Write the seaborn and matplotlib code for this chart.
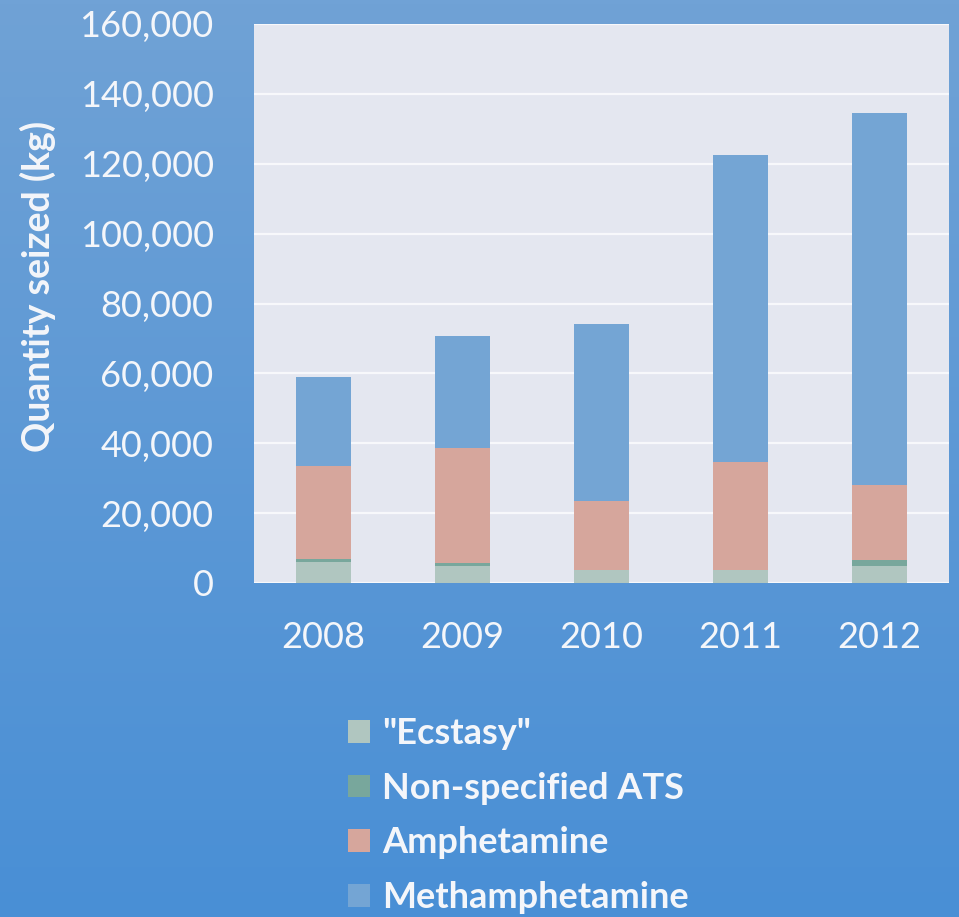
import numpy as np
import pandas as pd
import matplotlib
matplotlib.use("Agg")
import matplotlib.pyplot as plt
import seaborn as sns
from matplotlib.patches import Patch
from matplotlib.ticker import FuncFormatter

years = ["2008", "2009", "2010", "2011", "2012"]
ecstasy = [6100, 4900, 3700, 3700, 4900]
non_specified_ats = [700, 700, 0, 0, 1700]
amphetamine = [26700, 33000, 19800, 31000, 21400]
methamphetamine = [25500, 32100, 50600, 87800, 106500]

series_names = ['"Ecstasy"', "Non-specified ATS", "Amphetamine", "Methamphetamine"]
series_values = [ecstasy, non_specified_ats, amphetamine, methamphetamine]
colors = ["#B0C6C0", "#78A79C", "#D6A69C", "#74A5D4"]

yticks = list(range(0, 160001, 20000))

sns.set_theme(style="white")
plt.rcParams["font.family"] = ["Lato", "DejaVu Sans"]
txt = "#F4F6FA"

fig = plt.figure(figsize=(9.59, 9.17), dpi=100)

# gradient background
bg = fig.add_axes([0, 0, 1, 1], zorder=-10)
top = np.array([112, 162, 214]) / 255
bot = np.array([73, 143, 213]) / 255
t = np.linspace(0, 1, 256)[:, None]
grad = (top[None, :] * (1 - t) + bot[None, :] * t)[:, None, :]
bg.imshow(grad, aspect="auto", extent=[0, 1, 0, 1], origin="upper")
bg.axis("off")

ax = fig.add_axes([254 / 959, 1 - 583 / 917, 695 / 959, 559 / 917], zorder=1)
ax.set_facecolor("#E4E7F0")

cum = np.zeros(len(years))
cums = []
for vals in series_values:
    cum = cum + np.array(vals)
    cums.append(cum.copy())
for i in range(len(series_names) - 1, -1, -1):
    d = pd.DataFrame({"year": years, "value": cums[i]})
    sns.barplot(data=d, x="year", y="value", color=colors[i], width=0.4,
                saturation=1, ax=ax, zorder=3, linewidth=0)

ax.set_ylim(0, 160000)
ax.set_yticks(yticks)
ax.yaxis.set_major_formatter(FuncFormatter(lambda v, p: f"{int(v):,}"))
ax.grid(axis="y", color="#F7F8FB", linewidth=1.6, zorder=0)
ax.set_axisbelow(True)
for s in ax.spines.values():
    s.set_visible(False)
ax.tick_params(axis="both", length=0, labelsize=26, labelcolor=txt)
ax.tick_params(axis="y", pad=29)
ax.tick_params(axis="x", pad=27)
ax.set_xlabel("")
ax.set_ylabel("Quantity seized (kg)", fontsize=27, fontweight="bold", color=txt)
ax.yaxis.set_label_coords(-0.285, 0.53)

handles = [Patch(facecolor=c, edgecolor="none") for c in colors]
fig.legend(handles, series_names, loc="upper left",
           bbox_to_anchor=(330 / 959, 1 - 699 / 917), frameon=False,
           handlelength=0.6, handleheight=0.6,
           handletextpad=0.35, labelspacing=0.6, borderpad=0,
           prop={"weight": "bold", "size": 26}, labelcolor=txt)

fig.savefig("out.png", dpi=100)
